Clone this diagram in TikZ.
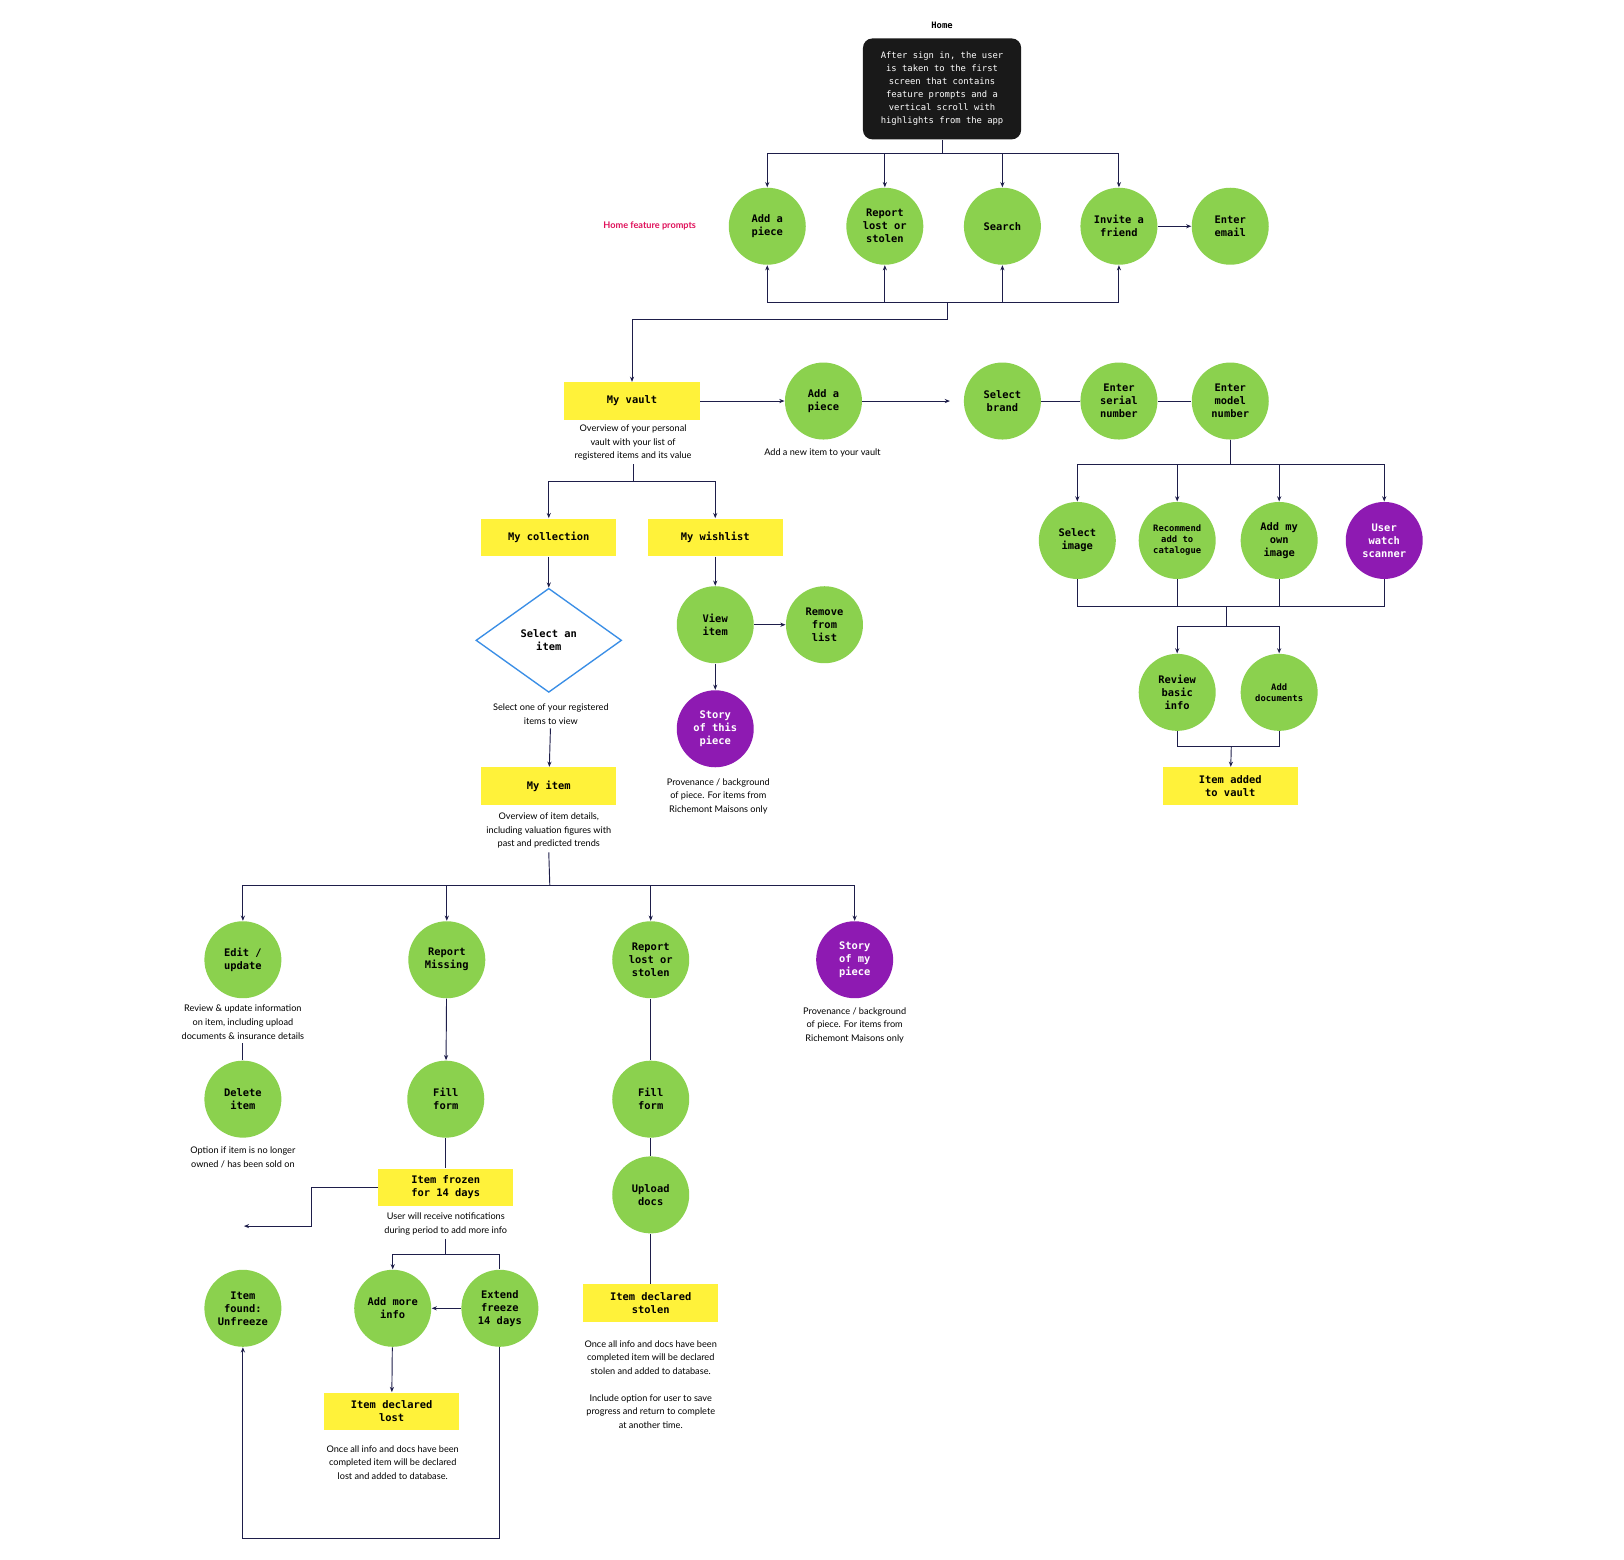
\documentclass[tikz,border=0pt]{standalone}
\usepackage{fontspec}
\setmainfont{Lato}
\newfontfamily\monof{DejaVu Sans Mono}
\usetikzlibrary{arrows.meta,shapes.geometric}
\definecolor{cgreen}{HTML}{8BD14E}
\definecolor{cpurple}{HTML}{8E1AB2}
\definecolor{cyellow}{HTML}{FFF23A}
\definecolor{cline}{HTML}{1E1E4A}
\definecolor{cblue}{HTML}{3A8EE6}
\definecolor{cred}{HTML}{E0105A}
\begin{document}
\begin{tikzpicture}[x=1pt,y=-1pt,line width=0.9pt,
  every path/.style={draw=cline},
  arr/.style={-{Stealth[length=5pt,width=4pt]}},
  circ/.style={circle,draw=none,fill=cgreen,minimum size=74pt,inner sep=0pt,align=center,
     font=\monof\bfseries\fontsize{10}{12.5}\selectfont},
  pcirc/.style={circ,fill=cpurple,text=white},
  ybox/.style={rectangle,draw=none,fill=cyellow,minimum width=130pt,minimum height=36pt,align=center,
     font=\monof\bfseries\fontsize{10}{12.5}\selectfont},
  desc/.style={align=center,font=\fontsize{8.8}{13}\selectfont},
  homebox/.style={rectangle,draw=none,fill=black!90,text=white,rounded corners=9pt,minimum width=152pt,
     minimum height=97pt,align=center,font=\monof\fontsize{8.5}{12.5}\selectfont}]
\useasboundingbox (0,0) rectangle (1560,1498);
\fill[white] (0,0) rectangle (1560,1498);
% Home
\node[font=\monof\bfseries\fontsize{8.5}{9}\selectfont] (homelbl) at (905,24) {Home};
\node[homebox] (home) at (905,85) {After sign in, the user\\is taken to the first\\screen that contains\\feature prompts and a\\vertical scroll with\\highlights from the app};
\node[circ] (c1) at (737,217) {Add a\\piece};
\node[circ] (c2) at (850,217) {Report\\lost or\\stolen};
\node[circ] (c3) at (963,217) {Search};
\node[circ] (c4) at (1075,217) {Invite a\\friend};
\node[circ] (c5) at (1182,217) {Enter\\email};
\node[font=\bfseries\fontsize{8.8}{10}\selectfont,text=cred] (hfp) at (624,217) {Home feature prompts};
\coordinate (j1) at (905,147);
\draw (home.south) -- (j1);
\foreach \c in {c1,c2,c3,c4} \draw[arr] (j1) -| (\c);
\draw[arr] (c4) -- (c5);
\coordinate (j2) at (910,290);
\foreach \c in {c1,c2,c3,c4} \draw[arr] (j2) -| (\c.south);
\coordinate (j3) at (910,307);
\draw (j2) -- (j3);
% Vault
\node[ybox] (vault) at (607,385) {My vault};
\draw[arr] (j3) -| (vault);
\node[desc] (vaultd) at (608,425) {Overview of your personal\\vault with your list of\\registered items and its value};
\node[circ] (add) at (791,385) {Add a\\piece};
\node[desc] (addd) at (790,435) {Add a new item to your vault};
\draw[arr] (vault) -- (add);
\node[circ] (brand) at (963,385) {Select\\brand};
\draw[arr] (add) -- ([xshift=-13pt]brand.west);
\node[circ] (serial) at (1075,385) {Enter\\serial\\number};
\node[circ] (model) at (1182,385) {Enter\\model\\number};
\draw (brand) -- (serial); \draw (serial) -- (model);
\coordinate (j5) at (1182,446);
\draw (model) -- (j5);
\node[circ] (simg) at (1035,519) {Select\\image};
\node[circ,font=\monof\bfseries\fontsize{8.5}{10.5}\selectfont] (rec) at (1131,519) {Recommend\\add to\\catalogue};
\node[circ] (own) at (1229,519) {Add my\\own\\image};
\node[pcirc] (scan) at (1330,519) {User\\watch\\scanner};
\foreach \c in {simg,rec,own,scan} \draw[arr] (j5) -| (\c);
\coordinate (j6) at (1178,582);
\foreach \c in {simg,rec,own,scan} \draw (\c) |- (j6);
\coordinate (j7) at (1178,602);
\draw (j6) -- (j7);
\node[circ] (rev) at (1131,665) {Review\\basic\\info};
\node[circ,font=\monof\bfseries\fontsize{8.5}{10.5}\selectfont] (docs) at (1229,665) {Add\\documents};
\draw[arr] (j7) -| (rev); \draw[arr] (j7) -| (docs);
\coordinate (j8) at (1183,717);
\draw (rev) |- (j8); \draw (docs) |- (j8);
\node[ybox] (added) at (1182,755) {Item added\\to vault};
\draw[arr] (j8) -- (added);
% collection / wishlist
\coordinate (j4) at (608,462);
\draw (vaultd.south) -- (j4);
\node[ybox] (coll) at (527,516) {My collection};
\node[ybox] (wish) at (687,516) {My wishlist};
\draw[arr] (j4) -| (coll); \draw[arr] (j4) -| (wish);
\node[diamond,draw=cblue,line width=1.3pt,fill=white,minimum width=140pt,minimum height=100pt,aspect=1.4,inner sep=0pt,
  align=center,font=\monof\bfseries\fontsize{10}{12.5}\selectfont] (sel) at (527,615) {Select an\\item};
\draw[arr] (coll) -- (sel);
\node[desc] (seld) at (529,686) {Select one of your registered\\items to view};
\node[ybox] (item) at (527,755) {My item};
\draw[arr] (seld) -- (item);
\node[desc] (itemd) at (527,798) {Overview of item details,\\including valuation figures with\\past and predicted trends};
\node[circ] (view) at (687,600) {View\\item};
\node[circ] (remove) at (792,600) {Remove\\from\\list};
\node[pcirc] (story1) at (687,700) {Story\\of this\\piece};
\node[desc] (story1d) at (690,765) {Provenance / background\\of piece. For items from\\Richemont Maisons only};
\draw[arr] (wish) -- (view); \draw[arr] (view) -- (remove); \draw[arr] (view) -- (story1);
% item branches
\coordinate (j9) at (528,851);
\draw (itemd.south) -- (j9);
\node[circ] (edit) at (233,922) {Edit /\\update};
\node[circ] (rmiss) at (429,922) {Report\\Missing};
\node[circ] (rlost) at (625,922) {Report\\lost or\\stolen};
\node[pcirc] (story2) at (821,922) {Story\\of my\\piece};
\foreach \c in {edit,rmiss,rlost,story2} \draw[arr] (j9) -| (\c);
\node[desc] (editd) at (233,982) {Review \& update information\\on item, including upload\\documents \& insurance details};
\node[desc] (story2d) at (821,985) {Provenance / background\\of piece. For items from\\Richemont Maisons only};
\node[circ] (del) at (233,1056) {Delete\\item};
\draw (editd) -- (del);
\node[desc] (deld) at (233,1112) {Option if item is no longer\\owned / has been sold on};
% report missing
\node[circ] (fill1) at (428,1056) {Fill\\form};
\draw[arr] (rmiss) -- (fill1);
\node[ybox] (frozen) at (428,1141) {Item frozen\\for 14 days};
\draw (fill1) -- (frozen);
\coordinate (j10) at (299,1141);
\coordinate (j11) at (234,1178);
\draw[arr] (frozen.west) -- (j10) |- (j11);
\node[desc] (frozend) at (428,1176) {User will receive notifications\\during period to add more info};
\coordinate (j12) at (428,1205);
\draw (frozend) -- (j12);
\node[circ] (found) at (233,1257) {Item\\found:\\Unfreeze};
\node[circ] (more) at (377,1257) {Add more\\info};
\node[circ] (extend) at (480,1257) {Extend\\freeze\\14 days};
\draw[arr] (j12) -| (more); \draw (j12) -| (extend);
\draw[arr] (extend) -- (more);
\node[ybox] (lost) at (376,1356) {Item declared\\lost};
\draw[arr] (more) -- (lost);
\node[desc] (lostd) at (377,1405) {Once all info and docs have been\\completed item will be declared\\lost and added to database.};
\coordinate (j13) at (480,1478);
\draw[arr] (extend) -- (j13) -| (found);
% report lost/stolen
\node[circ] (fill2) at (625,1056) {Fill\\form};
\draw (rlost) -- (fill2);
\node[circ] (upload) at (625,1148) {Upload\\docs};
\draw (fill2) -- (upload);
\node[ybox] (stolen) at (625,1252) {Item declared\\stolen};
\draw (upload) -- (stolen);
\node[desc] (stolend) at (625,1330) {Once all info and docs have been\\completed item will be declared\\stolen and added to database.\\[13pt]Include option for user to save\\progress and return to complete\\at another time.};
\end{tikzpicture}
\end{document}
